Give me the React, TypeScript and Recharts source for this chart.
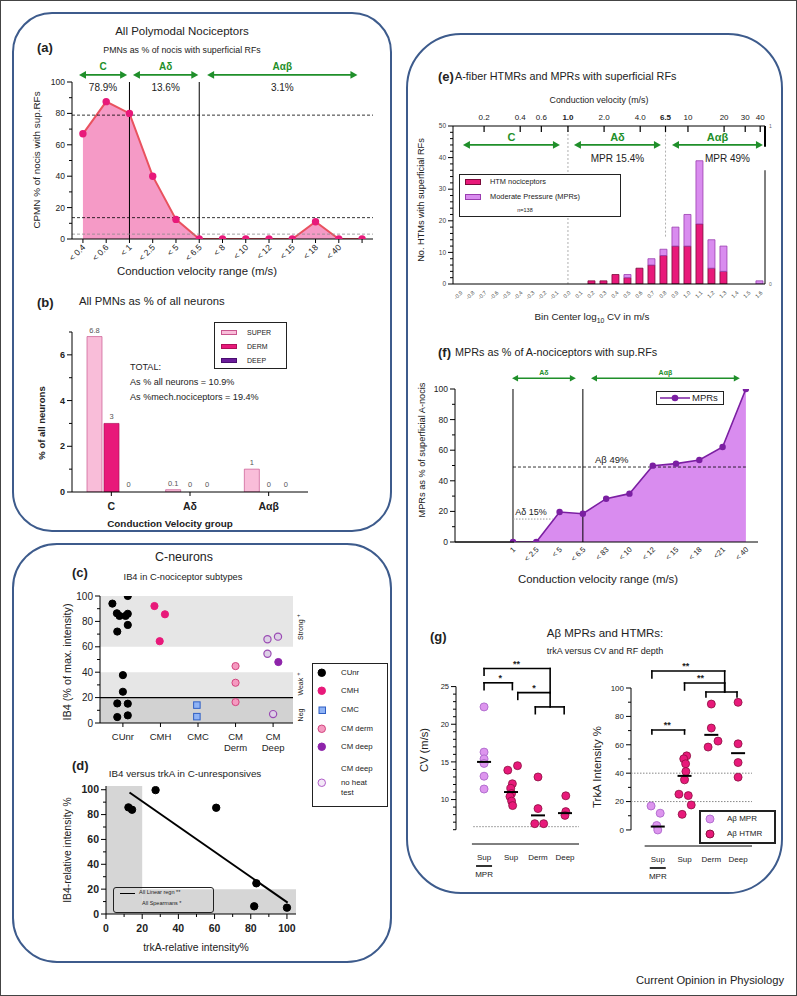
import React from "react";
import {
  ComposedChart,
  BarChart,
  ScatterChart,
  Area,
  Bar,
  Cell,
  Scatter,
  XAxis,
  YAxis,
  ReferenceLine,
  ReferenceArea,
  ReferenceDot,
  LabelList,
} from "recharts";

const FONT = '"Liberation Sans", Arial, Helvetica, sans-serif';
const INK = "#222";
const GREEN = "#1f8f2a";
const MAGENTA = "#e8197a";
const ROSE = "#f59ac6";
const LILAC = "#d98cef";
const PURPLE = "#7b1fa2";
const FRAME = "#3d5b8c";

// (a) polymodal nociceptors as % of nocis with superficial RFs
const aCategories = ["< 0.4", "< 0.6", "< 1", "< 2.5", "< 5", "< 6.5", "< 8", "< 10", "< 12", "< 15", "< 18", "< 40", ""];
const aValues = [67, 87.5, 80, 40, 12.5, 0, 0, 0, 0, 0, 11, 0, 0];
const aYTicks = [0, 10, 20, 30, 40, 50, 60, 70, 80, 90, 100];
const aShares = [78.9, 13.6, 3.1];
const aZones = ["C", "Aδ", "Aαβ"];
const aZoneFrom = [-0.17, 2.15, 5.34];
const aZoneTo = [1.9, 4.96, 11.8];
const aBoundaries = [2, 5];

// (b) PMNs as % of all neurons
const bGroups = ["C", "Aδ", "Aαβ"];
const bSuper = [6.8, 0.1, 1];
const bDerm = [3, 0, 0];
const bDeep = [0, 0, 0];
const bYTicks = [0, 1, 2, 3, 4, 5, 6, 7];

// (c) IB4 in C-nociceptor subtypes, x = subtype index + jitter
const cCategories = ["CUnr", "CMH", "CMC", "CM|Derm", "CM|Deep"];
const cYTicks = [0, 10, 20, 30, 40, 50, 60, 70, 80, 90, 100];
const cUnr = [
  [0.72, 94], [0.84, 86.4], [0.91, 84.3], [1.07, 84.3], [1.13, 100], [1.13, 86], [1.13, 77.2],
  [0.85, 72], [1, 37.7], [1, 24.6], [0.85, 15.4], [1.13, 15.2], [0.85, 4.7], [1.13, 6],
];
const cCmh = [[1.84, 92.1], [2.12, 85.6], [1.98, 64.4]];
const cCmc = [[2.97, 14.1], [2.97, 5]];
const cCmDerm = [[4, 44.8], [4, 31.7], [4, 16.5]];
const cCmDeep = [[5.14, 48]];
const cCmDeepNoHeat = [[4.85, 66], [5.13, 68], [4.85, 54.5], [5, 7]];

// (d) IB4 versus trkA in C-unresponsives
const dTrkA = [12.4, 14.4, 27.4, 60.9, 83.1, 81.9, 100];
const dIB4 = [85.8, 83.9, 99.7, 85.5, 24.7, 6.2, 5.1];
const dFit = [[13, 97.8], [100.4, 9.1]];
const dXTicks = [0, 10, 20, 30, 40, 50, 60, 70, 80, 90, 100];
const dYTicks = [0, 10, 20, 30, 40, 50, 60, 70, 80, 90, 100];

// (e) histogram of A-fibre HTMRs and MPRs
const eBins = [-0.9, -0.8, -0.7, -0.6, -0.5, -0.4, -0.3, -0.2, -0.1, 0.0, 0.1, 0.2, 0.3, 0.4, 0.5, 0.6, 0.7, 0.8, 0.9, 1.0, 1.1, 1.2, 1.3, 1.4, 1.5, 1.6];
const eHTM = [0, 0, 0, 0, 0, 0, 0, 0, 0, 0, 0, 1, 1, 3, 2, 5, 6, 9, 12, 12, 19, 5, 4, 0, 0, 0];
const eMPR = [0, 0, 0, 0, 0, 0, 0, 0, 0, 0, 0, 0, 0, 0, 1, 0, 2, 2, 6, 10, 20, 9, 8, 0, 0, 1];
const eYTicks = [0, 2, 4, 6, 8, 10, 12, 14, 16, 18, 20, 22, 24, 26, 28, 30, 32, 34, 36, 38, 40, 42, 44, 46, 48, 50];
const eTopCV = [0.2, 0.4, 0.6, 1.0, 2.0, 4.0, 6.5, 10, 20, 30, 40];
const eTopLabels = ["0.2", "0.4", "0.6", "1.0", "2.0", "4.0", "6.5", "10", "20", "30", "40"];
const eRightLabels = ["0", "1"];
const eZones = ["C", "Aδ", "Aαβ"];
const eZoneFrom = [-0.875, 0.05, 0.867];
const eZoneTo = [-0.067, 0.775, 1.625];
const eZoneMPR = ["", "MPR 15.4%", "MPR 49%"];

// (f) MPRs as % of A-nociceptors
const fCategories = ["1", "< 2.5", "< 5", "< 6.5", "< 83", "< 10", "< 12", "< 15", "< 18", "<21", "< 40"];
const fValues = [0, 0, 19.6, 18.5, 28.3, 31.6, 49.9, 51.2, 53.6, 62.1, 100];
const fYTicks = [0, 10, 20, 30, 40, 50, 60, 70, 80, 90, 100];
const fZones = ["Aδ", "Aαβ"];
const fZoneFrom = [-0.04, 3.35];
const fZoneTo = [2.7, 9.74];
const fBoundaries = [0, 3];
const F_XMIN = -2.49;
const F_XMAX = 10.52;

// (g) Aβ MPRs and HTMRs, x = group index + jitter
const gGroups = ["Sup", "Sup", "Derm", "Deep"];
const gCvMpr = [[1, 22.3], [1, 16.3], [1, 15.4], [1, 14.8], [1, 13.1], [1, 11.4]];
const gCvHtmr = [
  [1.88, 13.9], [2.24, 14.5], [2.05, 12.1], [1.99, 11.5], [2.02, 10.8], [1.96, 10.4], [2.02, 9.8], [2.06, 9.2],
  [3, 13.0], [3, 8.8], [2.88, 6.8], [3.21, 6.8],
  [4.03, 10.5], [4.03, 8.4], [4, 7.9],
];
const gCvMedians = [15, 11, 7.9, 8.2];
const gCvTicks = [6, 7, 8, 9, 10, 11, 12, 13, 14, 15, 16, 17, 18, 19, 20, 21, 22, 23, 24, 25];
const gTrkMpr = [[0.75, 16.9], [1.09, 11.8], [0.96, 3.1], [1, 0]];
const gTrkHtmr = [
  [2.08, 52.2], [1.97, 50.1], [2.04, 46.6], [2.05, 41.2], [2, 35.3], [1.79, 25.2], [2.14, 24.2], [2.25, 17.6], [1.91, 11],
  [3, 88.7], [3, 71.8], [2.88, 58.4], [3.25, 62.6],
  [4, 89.9], [4, 60.7], [4, 47.5], [4, 37.2],
];
const gTrkMedians = [2.4, 38.1, 67, 54.1];
const gTrkTicks = [0, 10, 20, 30, 40, 50, 60, 70, 80, 90, 100];

type Bracket = { x1: number; x2: number; top: number; left: number; right: number; label: string; lx: number };
const gCvBrackets: Bracket[] = [
  { x1: 1, x2: 3.45, top: 27.4, left: 26.5, right: 24.2, label: "**", lx: 2.2 },
  { x1: 1, x2: 2.05, top: 25.5, left: 24.6, right: 24.6, label: "*", lx: 1.6 },
  { x1: 2.25, x2: 3.45, top: 24.2, left: 23.3, right: 22.3, label: "*", lx: 2.85 },
  { x1: 2.9, x2: 3.97, top: 22.3, left: 21.4, right: 21.4, label: "", lx: 0 },
];
const gTrkBrackets: Bracket[] = [
  { x1: 0.78, x2: 3.5, top: 112, left: 107, right: 97.2, label: "**", lx: 2.05 },
  { x1: 2.0, x2: 3.5, top: 103.5, left: 98.6, right: 97.2, label: "**", lx: 2.6 },
  { x1: 2.8, x2: 3.96, top: 97.2, left: 93.7, right: 93.7, label: "", lx: 0 },
  { x1: 0.78, x2: 2.0, top: 70.4, left: 67.6, right: 67.6, label: "**", lx: 1.35 },
];

const bare = { tickSize: 0, tickMargin: 0, tickLine: false, interval: 0, allowDataOverflow: true, stroke: "#000" } as const;
const pts = (list: number[][]) => list.map(([x, y]) => ({ x, y }));

// ---------- tick renderers ----------
function leftTicks(step: number, size: number, opts: { bold?: boolean; color?: string } = {}) {
  return (p: any) => {
    const v = Number(p.payload.value);
    const major = Math.abs(v / step - Math.round(v / step)) < 1e-6;
    const len = major ? 5 : 3;
    return (
      <g>
        <line x1={p.x - len} x2={p.x} y1={p.y} y2={p.y} stroke="#000" strokeWidth={1} />
        {major && (
          <text x={p.x - len - 2} y={p.y} dy="0.35em" textAnchor="end" fontSize={size} fontWeight={opts.bold ? 700 : 400} fill={opts.color ?? INK}>
            {v}
          </text>
        )}
      </g>
    );
  };
}

function bottomTicks(step: number, size: number, bold = false) {
  return (p: any) => {
    const v = Number(p.payload.value);
    const major = Math.abs(v / step - Math.round(v / step)) < 1e-6;
    return (
      <g>
        <line x1={p.x} x2={p.x} y1={p.y} y2={p.y + (major ? 5 : 3)} stroke="#000" />
        {major && (
          <text x={p.x} y={p.y + 14} dy="0.35em" textAnchor="middle" fontSize={size} fontWeight={bold ? 700 : 400} fill={INK}>
            {v}
          </text>
        )}
      </g>
    );
  };
}

function slantTicks(label: (v: number) => string, size: number, tick = 4, dx = 3, dy = 9, color = INK) {
  return (p: any) => {
    const v = Number(p.payload.value);
    return (
      <g>
        {tick > 0 && <line x1={p.x} x2={p.x} y1={p.y} y2={p.y + tick} stroke="#000" />}
        <text transform={`translate(${p.x + dx},${p.y + dy}) rotate(-45)`} textAnchor="end" fontSize={size} fill={color}>
          {label(v)}
        </text>
      </g>
    );
  };
}

function zoneArrow(label: string, sub: string, o: { size: number; subSize?: number; head?: number; sw?: number; lift?: number; gap?: number; subDx?: number }) {
  const head = o.head ?? 7;
  const sw = o.sw ?? 1.8;
  return (p: any) => {
    const { x1, x2, y1 } = p;
    const xm = (x1 + x2) / 2;
    const hh = head * 0.55;
    return (
      <g>
        <line x1={x1 + head - 1} x2={x2 - head + 1} y1={y1} y2={y1} stroke={GREEN} strokeWidth={sw} />
        <polygon points={`${x1},${y1} ${x1 + head},${y1 - hh} ${x1 + head},${y1 + hh}`} fill={GREEN} />
        <polygon points={`${x2},${y1} ${x2 - head},${y1 - hh} ${x2 - head},${y1 + hh}`} fill={GREEN} />
        <text x={xm} y={y1 - (o.lift ?? 5)} textAnchor="middle" fontSize={o.size} fontWeight={700} fill={GREEN}>
          {label}
        </text>
        {sub && (
          <text x={xm + (o.subDx ?? 0)} y={y1 + (o.gap ?? 16.5)} textAnchor="middle" fontSize={o.subSize ?? 10} fill={INK}>
            {sub}
          </text>
        )}
      </g>
    );
  };
}

const textShape = (s: string, size: number, anchor = "middle", dy = -3, bold = false) => (p: any) => (
  <text x={p.cx} y={p.cy + dy} textAnchor={anchor} fontSize={size} fontWeight={bold ? 700 : 400} fill={INK}>
    {s}
  </text>
);

const dotShape = (fill: string, stroke: string, r = 3.6, sw = 1) => (p: any) => (
  <circle cx={p.cx} cy={p.cy} r={r} fill={fill} stroke={stroke} strokeWidth={sw} />
);
const squareShape = (fill: string, stroke: string, s = 6.5) => (p: any) => (
  <rect x={p.cx - s / 2} y={p.cy - s / 2} width={s} height={s} fill={fill} stroke={stroke} strokeWidth={1} />
);
const medianShape = (p: any) => <line x1={p.cx - 7} x2={p.cx + 7} y1={p.cy} y2={p.cy} stroke="#000" strokeWidth={2} />;

function bracketLines(list: Bracket[], key: string) {
  const out: any[] = [];
  list.forEach((b, i) => {
    const segs = [
      [{ x: b.x1, y: b.left }, { x: b.x1, y: b.top }],
      [{ x: b.x1, y: b.top }, { x: b.x2, y: b.top }],
      [{ x: b.x2, y: b.top }, { x: b.x2, y: b.right }],
    ];
    segs.forEach((s, j) =>
      out.push(<ReferenceLine key={`${key}${i}-${j}`} segment={s} stroke="#000" strokeWidth={1.6} strokeLinecap="square" ifOverflow="visible" />)
    );
    if (b.label) {
      out.push(<ReferenceDot key={`${key}${i}-t`} x={b.lx} y={b.top} ifOverflow="visible" shape={textShape(b.label, 9, "middle", -2, true)} />);
    }
  });
  return out;
}

// ---------- html helpers ----------
function T({ x, y, s = 10, a = "start", b = false, r = 0, c = INK, children }: any) {
  const tx = a === "middle" ? "-50%" : a === "end" ? "-100%" : "0%";
  return (
    <div
      style={{
        position: "absolute",
        left: x,
        top: y,
        fontSize: s,
        fontWeight: b ? 700 : 400,
        color: c,
        whiteSpace: "nowrap",
        lineHeight: 1,
        pointerEvents: "none",
        transform: `translate(${tx},-50%)${r ? ` rotate(${r}deg)` : ""}`,
      }}
    >
      {children}
    </div>
  );
}

function Frame({ x, y, w, h, r }: any) {
  return (
    <div style={{ position: "absolute", left: x, top: y, width: w, height: h, border: `2px solid ${FRAME}`, borderRadius: r, boxSizing: "border-box" }} />
  );
}

function Box({ x, y, w, h, bw = 1, radius = 0, bg = "#fff" }: any) {
  return (
    <div style={{ position: "absolute", left: x, top: y, width: w, height: h, border: `${bw}px solid #222`, borderRadius: radius, boxSizing: "border-box", background: bg }} />
  );
}

function Swatch({ x, y, w = 16, h = 5, fill, stroke }: any) {
  return <div style={{ position: "absolute", left: x, top: y - h / 2, width: w, height: h, background: fill, border: `1px solid ${stroke}`, boxSizing: "border-box" }} />;
}

function Mark({ x, y, fill, stroke, square = false, size = 7.5 }: any) {
  const s = size + 2;
  return (
    <svg style={{ position: "absolute", left: x - s / 2, top: y - s / 2 }} width={s} height={s}>
      {square ? (
        <rect x={1} y={1} width={size} height={size} fill={fill} stroke={stroke} />
      ) : (
        <circle cx={s / 2} cy={s / 2} r={size / 2} fill={fill} stroke={stroke} />
      )}
    </svg>
  );
}

// ---------- panels ----------
function PanelA() {
  const data = aValues.map((v, i) => ({ i, v }));
  return (
    <div style={{ position: "absolute", left: 20, top: 60 }}>
      <ComposedChart id="panel-a" width={365} height={209} data={data} margin={{ top: 22, right: 12, bottom: 0, left: 0 }}>
        <XAxis dataKey="i" type="number" domain={[-0.47, 12.47]} ticks={aCategories.map((_, i) => i)} height={30} {...bare} tick={slantTicks((v) => aCategories[Math.round(v)] ?? "", 8.5)} />
        <YAxis type="number" domain={[0, 100]} ticks={aYTicks} width={52} {...bare} tick={leftTicks(20, 8.5)} />
        <Area type="linear" dataKey="v" stroke="#e9525f" strokeWidth={2} fill={ROSE} fillOpacity={1} dot={{ r: 3.7, fill: MAGENTA, stroke: MAGENTA, strokeWidth: 0 }} activeDot={false} isAnimationActive={false} />
        {aBoundaries.map((x) => (
          <ReferenceLine key={`b${x}`} x={x} stroke="#000" strokeWidth={1} />
        ))}
        {aShares.map((s, k) => (
          <ReferenceLine key={`s${k}`} y={s} stroke={k === 2 ? "#8a8a8a" : "#000"} strokeDasharray="3 2" strokeWidth={0.8} />
        ))}
        {aZones.map((z, k) => (
          <ReferenceLine key={`z${k}`} segment={[{ x: aZoneFrom[k], y: 104.5 }, { x: aZoneTo[k], y: 104.5 }]} ifOverflow="visible" shape={zoneArrow(z, `${aShares[k]}%`, { size: 10 })} />
        ))}
      </ComposedChart>
    </div>
  );
}

const bSeries = [
  { key: "SUPER", fill: "#f9bdd9", stroke: "#c9568f" },
  { key: "DERM", fill: MAGENTA, stroke: "#b0105a" },
  { key: "DEEP", fill: "#6a1b9a", stroke: "#4a0d70" },
];

function PanelB() {
  const data: any[] = bGroups.map((g, i) => ({ g, SUPER: bSuper[i], DERM: bDerm[i], DEEP: bDeep[i] }));
  const groupTick = (p: any) => (
    <g>
      <line x1={p.x} x2={p.x} y1={p.y} y2={p.y + 4} stroke="#000" />
      <text x={p.x} y={p.y + 14} dy="0.35em" textAnchor="middle" fontSize={10.5} fontWeight={700} fill={INK}>
        {p.payload.value}
      </text>
    </g>
  );
  return (
    <div style={{ position: "absolute", left: 20, top: 310 }}>
      <BarChart id="panel-b" width={288} height={202} data={data} margin={{ top: 22, right: 0, bottom: 0, left: 0 }} barSize={15} barGap={2}>
        <XAxis dataKey="g" height={20} {...bare} tick={groupTick} />
        <YAxis type="number" domain={[0, 7]} ticks={bYTicks} width={52} {...bare} tick={leftTicks(2, 9, { bold: true })} />
        {bSeries.map((s) => (
          <Bar key={s.key} dataKey={s.key} fill={s.fill} stroke={s.stroke} strokeWidth={0.7} minPointSize={1} isAnimationActive={false}>
            {data.map((d, i) => (
              <Cell key={i} fill={d[s.key] ? s.fill : "transparent"} stroke={d[s.key] ? s.stroke : "none"} />
            ))}
            <LabelList dataKey={s.key} position="top" offset={4} fontSize={7.5} fill="#555" />
          </Bar>
        ))}
      </BarChart>
    </div>
  );
}

const cSeries = [
  { name: "CUnr", pts: cUnr, shape: dotShape("#000", "#000") },
  { name: "CMH", pts: cCmh, shape: dotShape(MAGENTA, MAGENTA) },
  { name: "CMC", pts: cCmc, shape: squareShape("#8fb3f5", "#2f5fc4") },
  { name: "CM derm", pts: cCmDerm, shape: dotShape("#f59ac0", "#d2457f") },
  { name: "CM deep", pts: cCmDeep, shape: dotShape("#8e24aa", "#8e24aa") },
  { name: "CM deep no heat test", pts: cCmDeepNoHeat, shape: dotShape("#ddd0e6", "#9a4bb3", 3.6, 1.2) },
];
const cBands = [
  { y1: 60, y2: 100, fill: "#e6e6e6" },
  { y1: 20, y2: 40, fill: "#e6e6e6" },
  { y1: 0, y2: 20, fill: "#d2d2d2" },
];

function PanelC() {
  const catTick = (p: any) => {
    const lines = cCategories[Math.round(Number(p.payload.value)) - 1].split("|");
    return (
      <g>
        <line x1={p.x} x2={p.x} y1={p.y} y2={p.y + 4} stroke="#000" />
        <text x={p.x} y={p.y + 17} textAnchor="middle" fontSize={9.5} fill={INK}>
          {lines.map((l, k) => (
            <tspan key={k} x={p.x} dy={k ? 11 : 0}>
              {l}
            </tspan>
          ))}
        </text>
      </g>
    );
  };
  return (
    <div style={{ position: "absolute", left: 40, top: 580 }}>
      <ScatterChart id="panel-c" width={253} height={177} margin={{ top: 16, right: 0, bottom: 0, left: 0 }}>
        <XAxis type="number" dataKey="x" domain={[0.39, 5.53]} ticks={[1, 2, 3, 4, 5]} height={34} {...bare} tick={catTick} />
        <YAxis type="number" dataKey="y" domain={[0, 100]} ticks={cYTicks} width={60} {...bare} tick={leftTicks(20, 10)} />
        {cBands.map((b, k) => (
          <ReferenceArea key={k} y1={b.y1} y2={b.y2} fill={b.fill} fillOpacity={1} stroke="none" />
        ))}
        <ReferenceLine y={20} stroke="#000" strokeWidth={1.2} />
        {cSeries.map((s) => (
          <Scatter key={s.name} name={s.name} data={pts(s.pts)} shape={s.shape} isAnimationActive={false} />
        ))}
      </ScatterChart>
    </div>
  );
}

function PanelD() {
  const data = dTrkA.map((x, i) => ({ x, y: dIB4[i] }));
  return (
    <div style={{ position: "absolute", left: 40, top: 770 }}>
      <ScatterChart id="panel-d" width={256} height={168} margin={{ top: 16, right: 0, bottom: 0, left: 0 }}>
        <XAxis type="number" dataKey="x" domain={[0, 105]} ticks={dXTicks} height={24} {...bare} tick={bottomTicks(20, 10.5, true)} />
        <YAxis type="number" dataKey="y" domain={[0, 103]} ticks={dYTicks} width={66} {...bare} tick={leftTicks(20, 10.5, { bold: true })} />
        <ReferenceArea x1={0} x2={20} y1={0} y2={103} fill="#d6d6d6" fillOpacity={1} stroke="none" />
        <ReferenceArea x1={20} x2={105} y1={0} y2={20} fill="#d6d6d6" fillOpacity={1} stroke="none" />
        <ReferenceLine segment={[{ x: dFit[0][0], y: dFit[0][1] }, { x: dFit[1][0], y: dFit[1][1] }]} stroke="#000" strokeWidth={2} />
        <Scatter data={data} shape={dotShape("#000", "#000", 3.7)} isAnimationActive={false} />
      </ScatterChart>
    </div>
  );
}

function PanelE() {
  const data = eBins.map((bin, i) => ({ bin, htm: eHTM[i], mpr: eMPR[i] }));
  const topTick = (p: any) => {
    const v = Number(p.payload.value);
    const k = eTopCV.findIndex((c) => Math.abs(Math.log10(c) - v) < 1e-6);
    const lab = eTopLabels[k] ?? "";
    const bold = lab === "1.0" || lab === "6.5";
    return (
      <g>
        <line x1={p.x} x2={p.x} y1={p.y} y2={p.y + 6} stroke="#000" strokeWidth={1.2} />
        <text x={p.x} y={p.y - 6.5} textAnchor="middle" fontSize={8} fontWeight={bold ? 700 : 400} fill={INK}>
          {lab}
        </text>
      </g>
    );
  };
  const rightTick = (p: any) => (
    <text x={p.x + 4} y={p.y} dy="0.35em" fontSize={5} fill="#666">
      {eRightLabels[Number(p.payload.value) > 0 ? 1 : 0]}
    </text>
  );
  return (
    <div style={{ position: "absolute", left: 410, top: 100 }}>
      <ComposedChart id="panel-e" width={367} height={208} data={data} margin={{ top: 6, right: 0, bottom: 0, left: 0 }} barSize={7}>
        <XAxis dataKey="bin" type="number" domain={[-0.958, 1.642]} ticks={eBins} height={24} {...bare} tick={slantTicks((v) => v.toFixed(1), 5.5, 0, 3, 9, "#444")} />
        <XAxis xAxisId="t" orientation="top" dataKey="bin" type="number" domain={[-0.958, 1.642]} ticks={eTopCV.map((c) => Math.log10(c))} height={20} {...bare} tick={topTick} />
        <YAxis type="number" domain={[0, 50]} ticks={eYTicks} width={43} {...bare} tick={leftTicks(10, 6.5, { color: "#444" })} />
        <YAxis yAxisId="r" orientation="right" type="number" domain={[0, 50]} ticks={[0, 50]} width={12} {...bare} axisLine={false} tick={rightTick} />
        <ReferenceLine segment={[{ x: 0, y: 0 }, { x: 0, y: 50 }]} stroke="#9a9a9a" strokeDasharray="2 2" strokeWidth={0.8} />
        <ReferenceLine segment={[{ x: 0.813, y: 15 }, { x: 0.813, y: 50 }]} stroke="#9a9a9a" strokeDasharray="2 2" strokeWidth={0.8} />
        <ReferenceLine segment={[{ x: 1.642, y: 0 }, { x: 1.642, y: 36 }]} stroke="#000" strokeWidth={1} />
        <ReferenceLine segment={[{ x: 1.642, y: 43.4 }, { x: 1.642, y: 50 }]} stroke="#000" strokeWidth={2} />
        <Bar dataKey="htm" stackId="s" fill={MAGENTA} stroke="#7a0a3a" strokeWidth={0.8} isAnimationActive={false} />
        <Bar dataKey="mpr" stackId="s" fill={LILAC} stroke="#9a3db0" strokeWidth={0.8} isAnimationActive={false} />
        {eZones.map((z, k) => (
          <ReferenceLine key={`z${k}`} segment={[{ x: eZoneFrom[k], y: 44 }, { x: eZoneTo[k], y: 44 }]} ifOverflow="visible" shape={zoneArrow(z, eZoneMPR[k], { size: 11, subSize: 10, lift: 4, gap: 17, subDx: k === 2 ? 10 : 0 })} />
        ))}
      </ComposedChart>
    </div>
  );
}

function PanelF() {
  const data = fValues.map((v, i) => ({ i, v }));
  return (
    <div style={{ position: "absolute", left: 410, top: 370 }}>
      <ComposedChart id="panel-f" width={348} height={202} data={data} margin={{ top: 19, right: 0, bottom: 0, left: 45 }}>
        <XAxis dataKey="i" type="number" domain={[F_XMIN, F_XMAX]} ticks={fCategories.map((_, i) => i)} height={30} {...bare} tick={slantTicks((v) => fCategories[Math.round(v)] ?? "", 7.5, 0, 3, 8)} />
        <YAxis hide type="number" domain={[0, 100]} allowDataOverflow />
        <Area type="linear" dataKey="v" stroke={PURPLE} strokeWidth={1.6} fill={LILAC} fillOpacity={1} dot={{ r: 3.2, fill: PURPLE, stroke: PURPLE, strokeWidth: 0 }} activeDot={false} isAnimationActive={false} />
        {fBoundaries.map((b) => (
          <ReferenceLine key={`b${b}`} x={b} stroke="#000" strokeWidth={1} />
        ))}
        <ReferenceLine segment={[{ x: 0, y: 15 }, { x: 1.7, y: 15 }]} stroke="#999" strokeDasharray="1.5 1.5" strokeWidth={1} />
        <ReferenceLine segment={[{ x: 0, y: 49 }, { x: 10, y: 49 }]} stroke="#000" strokeDasharray="3 2" strokeWidth={0.8} />
        <ReferenceDot x={0.1} y={15} ifOverflow="visible" shape={textShape("Aδ 15%", 9, "start", -4)} />
        <ReferenceDot x={3.52} y={49} ifOverflow="visible" shape={textShape("Aβ 49%", 9.5, "start", -4)} />
        {fZones.map((z, k) => (
          <ReferenceLine key={`z${k}`} segment={[{ x: fZoneFrom[k], y: 107 }, { x: fZoneTo[k], y: 107 }]} ifOverflow="visible" shape={zoneArrow(z, "", { size: 7, head: 6, sw: 1.4, lift: 3 })} />
        ))}
      </ComposedChart>
    </div>
  );
}

// value axis of (f) as plain svg laid over the same rows as the chart's plot (top 19, bottom 172, left 45)
function FValueAxis() {
  const top = 19;
  const bottom = 172;
  const left = 45;
  const y = (v: number) => bottom - (v / 100) * (bottom - top);
  return (
    <svg style={{ position: "absolute", left: 410, top: 370, overflow: "visible" }} width={110} height={180}>
      <line x1={left} x2={left} y1={top} y2={bottom} stroke="#000" strokeWidth={1} />
      <line x1={left} x2={104} y1={bottom} y2={bottom} stroke="#000" strokeWidth={1} />
      {fYTicks.map((v) => {
        const major = v % 20 === 0;
        const len = major ? 5 : 3;
        return (
          <g key={v}>
            <line x1={left - len} x2={left} y1={y(v)} y2={y(v)} stroke="#000" strokeWidth={1} />
            {major && (
              <text x={left - len - 2} y={y(v)} dy="0.35em" textAnchor="end" fontSize={8.5} fill={INK}>
                {v}
              </text>
            )}
          </g>
        );
      })}
    </svg>
  );
}

function gTick(p: any) {
  const i = Math.round(Number(p.payload.value)) - 1;
  return (
    <g>
      <text x={p.x} y={p.y + 13} dy="0.35em" textAnchor="middle" fontSize={8} fill={INK}>
        {gGroups[i]}
      </text>
      {i === 0 && (
        <g>
          <line x1={p.x - 8} x2={p.x + 8} y1={p.y + 22} y2={p.y + 22} stroke="#000" strokeWidth={1.6} />
          <text x={p.x} y={p.y + 30} dy="0.35em" textAnchor="middle" fontSize={8} fill={INK}>
            MPR
          </text>
        </g>
      )}
    </g>
  );
}

const MPR_FILL = "#dd95ee";
const MPR_STROKE = "#b36fd0";
const HTMR_STROKE = "#8a1040";

function PanelGCv() {
  return (
    <div style={{ position: "absolute", left: 420, top: 655 }}>
      <ScatterChart id="panel-g-cv" width={159} height={225} margin={{ top: 12, right: 0, bottom: 0, left: 0 }}>
        <XAxis type="number" dataKey="x" domain={[-0.04, 4.52]} ticks={[1, 2, 3, 4]} height={36} {...bare} axisLine={false} tick={gTick} />
        <YAxis type="number" dataKey="y" domain={[4.1, 27.6]} ticks={gCvTicks} width={36} {...bare} axisLine={false} tick={leftTicks(5, 7.5)} />
        <ReferenceLine segment={[{ x: -0.04, y: 6 }, { x: -0.04, y: 25 }]} stroke="#000" strokeWidth={1} />
        <ReferenceLine segment={[{ x: 0.55, y: 4.1 }, { x: 4.52, y: 4.1 }]} stroke="#000" strokeWidth={1} />
        <ReferenceLine segment={[{ x: 0.6, y: 6.4 }, { x: 4.52, y: 6.4 }]} stroke="#888" strokeDasharray="1.5 1.5" strokeWidth={1} />
        <Scatter data={pts(gCvMpr)} shape={dotShape(MPR_FILL, MPR_STROKE, 4)} isAnimationActive={false} />
        <Scatter data={pts(gCvHtmr)} shape={dotShape(MAGENTA, HTMR_STROKE, 4, 0.8)} isAnimationActive={false} />
        <Scatter data={gCvMedians.map((y, i) => ({ x: i + 1, y }))} shape={medianShape} isAnimationActive={false} />
        {bracketLines(gCvBrackets, "cv")}
      </ScatterChart>
    </div>
  );
}

function PanelGTrk() {
  return (
    <div style={{ position: "absolute", left: 595, top: 655 }}>
      <ScatterChart id="panel-g-trk" width={157} height={227} margin={{ top: 12, right: 0, bottom: 0, left: 0 }}>
        <XAxis type="number" dataKey="x" domain={[0, 4.52]} ticks={[1, 2, 3, 4]} height={36} {...bare} axisLine={false} tick={gTick} />
        <YAxis type="number" dataKey="y" domain={[-11.3, 114.8]} ticks={gTrkTicks} width={36} {...bare} axisLine={false} tick={leftTicks(20, 8)} />
        <ReferenceLine segment={[{ x: 0, y: 0 }, { x: 0, y: 100 }]} stroke="#000" strokeWidth={1} />
        <ReferenceLine segment={[{ x: 0.51, y: -11.3 }, { x: 4.52, y: -11.3 }]} stroke="#000" strokeWidth={1} />
        <ReferenceLine y={40} stroke="#888" strokeDasharray="1.5 1.5" strokeWidth={1} />
        <ReferenceLine y={20} stroke="#888" strokeDasharray="1.5 1.5" strokeWidth={1} />
        <Scatter data={pts(gTrkMpr)} shape={dotShape(MPR_FILL, MPR_STROKE, 4)} isAnimationActive={false} />
        <Scatter data={pts(gTrkHtmr)} shape={dotShape(MAGENTA, HTMR_STROKE, 4, 0.8)} isAnimationActive={false} />
        <Scatter data={gTrkMedians.map((y, i) => ({ x: i + 1, y }))} shape={medianShape} isAnimationActive={false} />
        {bracketLines(gTrkBrackets, "trk")}
      </ScatterChart>
    </div>
  );
}

export default function App() {
  return (
    <div style={{ position: "absolute", left: 0, top: 0, width: 797, height: 996, background: "#fff", fontFamily: FONT, color: INK, overflow: "hidden" }}>
      <Frame x={12} y={12} w={380} h={520} r={40} />
      <Frame x={12} y={543} w={380} h={420} r={45} />
      <Frame x={406} y={33} w={377} h={861} r={55} />

      {/* (a) + (b) */}
      <T x={182} y={32} s={11.5} a="middle">All Polymodal Nociceptors</T>
      <T x={37} y={47} s={13} b>(a)</T>
      <T x={182} y={50} s={8.8} a="middle">PMNs as % of nocis with superficial RFs</T>
      <PanelA />
      <T x={37} y={160} s={9.9} a="middle" r={-90}>CPMN % of nocis with sup.RFs</T>
      <T x={197} y={272} s={11.4} a="middle">Conduction velocity range (m/s)</T>

      <T x={37} y={302} s={13} b>(b)</T>
      <T x={79} y={302} s={11.3}>All PMNs as % of all neurons</T>
      <PanelB />
      <T x={42} y={423} s={9.5} a="middle" b r={-90}>% of all neurons</T>
      <T x={130} y={368} s={9.1}>TOTAL:</T>
      <T x={130} y={383} s={9.1}>As % all neurons = 10.9%</T>
      <T x={130} y={398} s={9.1}>As %mech.nociceptors = 19.4%</T>
      <T x={170} y={524} s={9.9} a="middle" b>Conduction Velocity group</T>
      <Box x={214} y={322} w={73} h={47} />
      {bSeries.map((s, k) => (
        <React.Fragment key={s.key}>
          <Swatch x={221} y={332 + k * 14} w={16} h={5} fill={s.fill} stroke={s.stroke} />
          <T x={247} y={332 + k * 14} s={7}>{s.key}</T>
        </React.Fragment>
      ))}

      {/* (c) + (d) */}
      <T x={184} y={557} s={12.4} a="middle">C-neurons</T>
      <T x={72} y={572} s={13} b>(c)</T>
      <T x={183} y={578} s={9.3} a="middle">IB4 in C-nociceptor subtypes</T>
      <PanelC />
      <T x={67} y={662} s={10.8} a="middle" r={-90}>IB4 (% of max. intensity)</T>
      <T x={300} y={627} s={7} a="middle" r={-90}>Strong <sup>+</sup></T>
      <T x={300} y={684} s={7} a="middle" r={-90}>Weak <sup>+</sup></T>
      <T x={300} y={715} s={7} a="middle" r={-90}>Neg</T>
      <Box x={312} y={663} w={76} h={144} />
      <Mark x={322} y={673} fill="#000" stroke="#000" />
      <T x={341} y={673} s={7.8}>CUnr</T>
      <Mark x={322} y={691} fill={MAGENTA} stroke={MAGENTA} />
      <T x={341} y={691} s={7.8}>CMH</T>
      <Mark x={322} y={710} fill="#8fb3f5" stroke="#2f5fc4" square size={6.5} />
      <T x={341} y={710} s={7.8}>CMC</T>
      <Mark x={322} y={729} fill="#f59ac0" stroke="#d2457f" />
      <T x={341} y={729} s={7.8}>CM derm</T>
      <Mark x={322} y={747} fill="#8e24aa" stroke="#8e24aa" />
      <T x={341} y={747} s={7.8}>CM deep</T>
      <T x={341} y={769} s={7.8}>CM deep</T>
      <Mark x={322} y={783} fill="#f3e8f7" stroke="#b05cc8" />
      <T x={341} y={783} s={7.8}>no heat</T>
      <T x={341} y={793} s={7.8}>test</T>

      <T x={72} y={765} s={13} b>(d)</T>
      <T x={185} y={774} s={9.8} a="middle">IB4 versus trkA in C-unresponsives</T>
      <PanelD />
      <T x={68} y={850} s={10.4} a="middle" r={-90}>IB4-relative intensity %</T>
      <T x={196} y={948} s={10.4} a="middle">trkA-relative intensity%</T>
      <Box x={113} y={887} w={101} h={26} radius={3} bg="transparent" />
      <div style={{ position: "absolute", left: 120, top: 893, width: 15, height: 1.2, background: "#000" }} />
      <T x={139} y={893} s={5.5}>All Linear regn **</T>
      <T x={142} y={904} s={5.5}>All Spearmans *</T>

      {/* (e) */}
      <T x={438} y={76} s={13} b>(e)</T>
      <T x={455} y={76} s={10.8}>A-fiber HTMRs and MPRs with superficial RFs</T>
      <T x={599} y={100} s={8.8} a="middle">Conduction velocity (m/s)</T>
      <PanelE />
      <T x={422} y={200} s={9.2} a="middle" r={-90}>No. HTMs with superficial RFs</T>
      <T x={592} y={318} s={9.8} a="middle">
        Bin Center log<sub style={{ fontSize: "0.7em" }}>10</sub> CV in m/s
      </T>
      <Box x={459} y={174} w={162} h={43} bw={1.5} />
      <Swatch x={465} y={182} w={16} h={6} fill={MAGENTA} stroke="#7a0a3a" />
      <T x={490} y={182} s={7.4}>HTM nociceptors</T>
      <Swatch x={465} y={197} w={16} h={6} fill={LILAC} stroke="#9a3db0" />
      <T x={490} y={197} s={7.4}>Moderate Pressure (MPRs)</T>
      <T x={525} y={211} s={5.5} a="middle">n=138</T>

      {/* (f) */}
      <T x={438} y={352} s={13} b>(f)</T>
      <T x={455} y={352} s={10.8}>MPRs as % of A-nociceptors with sup.RFs</T>
      <PanelF />
      <T x={423} y={450} s={9.2} a="middle" r={-90}>MPRs as % of superficial A-nocis</T>
      <T x={598} y={580} s={11.4} a="middle">Conduction velocity range (m/s)</T>
      <Box x={656} y={391} w={68} h={14} />
      <svg style={{ position: "absolute", left: 660, top: 392 }} width={30} height={12}>
        <line x1={0} x2={30} y1={6} y2={6} stroke={PURPLE} strokeWidth={1.5} />
        <circle cx={15} cy={6} r={3.3} fill={PURPLE} />
      </svg>
      <T x={692} y={398} s={9.5}>MPRs</T>

      {/* (g) */}
      <T x={430} y={636} s={13} b>(g)</T>
      <T x={605} y={634} s={11.5} a="middle">Aβ MPRs and HTMRs:</T>
      <T x={605} y={651} s={9} a="middle">trkA versus CV and RF depth</T>
      <PanelGCv />
      <PanelGTrk />
      <T x={425} y={750} s={11.2} a="middle" r={-90}>CV (m/s)</T>
      <T x={598} y={767} s={11.4} a="middle" r={-90}>TrkA Intensity %</T>
      <Box x={699} y={810} w={77} h={34} bw={2} />
      <Mark x={710} y={819} fill={MPR_FILL} stroke={MPR_STROKE} size={8} />
      <T x={727} y={819} s={8}>Aβ MPR</T>
      <Mark x={710} y={834} fill={MAGENTA} stroke={HTMR_STROKE} size={8} />
      <T x={727} y={834} s={8}>Aβ HTMR</T>

      <T x={784} y={981} s={11.2} a="end">Current Opinion in Physiology</T>
      <div style={{ position: "absolute", left: 0, top: 0, width: 797, height: 996, border: "1px solid #444", boxSizing: "border-box", pointerEvents: "none" }} />
      <FValueAxis />
    </div>
  );
}
